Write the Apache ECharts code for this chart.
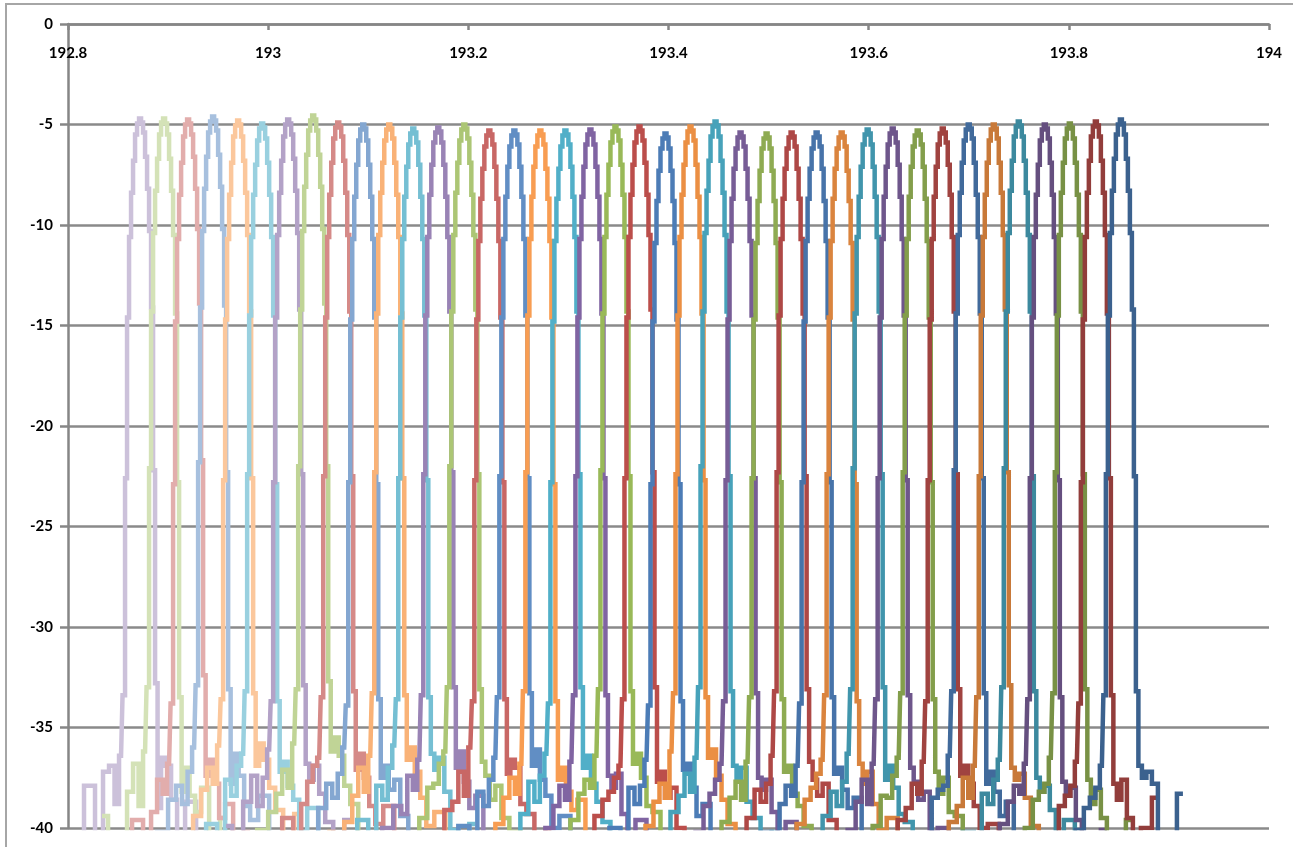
<!DOCTYPE html>
<html>
<head>
<meta charset="utf-8">
<script src="https://cdn.jsdelivr.net/npm/echarts@6/dist/echarts.min.js"></script>
<style>
html,body{margin:0;padding:0;background:#fff;overflow:hidden;}
#frame{position:absolute;left:5px;top:3px;width:1400px;height:1000px;border:2px solid #a6a6a6;}
#chart{position:absolute;left:0;top:0;width:1293px;height:847px;}
</style>
</head>
<body>
<div id="frame"></div>
<div id="chart"></div>
<script>
// Channel centre frequencies (THz)
const centers = [192.872,192.896,192.920,192.945,192.970,192.994,193.020,193.045,193.070,193.095,
                 193.121,193.145,193.170,193.196,193.221,193.246,193.272,193.297,193.322,193.347,
                 193.371,193.397,193.422,193.447,193.472,193.498,193.523,193.548,193.573,193.599,
                 193.624,193.649,193.674,193.700,193.725,193.750,193.776,193.801,193.827,193.852];

// Frequency offsets (THz) of the samples relative to each channel centre
const leftOffsets  = [-0.062,-0.050,-0.040,-0.034,-0.028,-0.023,-0.019];
const peakOffsets  = [-0.016,-0.014,-0.012,-0.010,-0.008,-0.006,-0.004,-0.002,0,0.002,0.004,0.006,0.008,0.010,0.012,0.014,0.016];
const rightOffsets = [0.019,0.023,0.028,0.034,0.040,0.050,0.062];

// Power levels (dBm) – left tail samples per channel
const leftTails = [
[-41.0,-37.9,-40.6,-37.2,-36.9,-38.8,-36.4],
[-39.4,-40.8,-41.0,-38.2,-36.8,-38.9,-36.2],
[-40.7,-39.6,-41.0,-39.2,-37.6,-38.3,-36.8],
[-41.0,-40.2,-38.6,-37.9,-38.8,-37.2,-36.0],
[-40.5,-41.0,-39.4,-38.1,-37.0,-37.8,-35.9],
[-41.0,-39.8,-40.3,-37.6,-38.4,-36.9,-36.3],
[-39.9,-41.0,-38.7,-37.4,-38.9,-37.5,-36.1],
[-41.0,-40.1,-39.2,-38.3,-37.1,-38.0,-35.8],
[-40.6,-39.5,-41.0,-38.8,-37.7,-36.9,-36.5],
[-41.0,-40.4,-39.0,-37.8,-38.5,-37.3,-36.0],
[-40.2,-41.0,-39.7,-38.4,-37.0,-38.2,-36.4],
[-41.0,-39.6,-40.5,-37.9,-38.6,-37.0,-35.9],
[-40.8,-40.0,-38.9,-39.3,-37.4,-38.1,-36.6],
[-41.0,-40.7,-39.5,-38.0,-37.8,-36.8,-36.2],
[-40.3,-41.0,-39.1,-38.7,-37.2,-38.4,-36.0],
[-41.0,-39.9,-40.6,-38.2,-38.9,-37.6,-36.5],
[-40.9,-41.0,-39.8,-38.5,-37.5,-38.3,-36.8],
[-41.0,-40.3,-39.3,-37.7,-38.7,-37.4,-36.3],
[-40.4,-41.0,-40.0,-38.9,-37.9,-38.6,-36.7],
[-41.0,-40.6,-39.6,-38.3,-37.6,-38.0,-36.4],
[-40.7,-41.0,-39.4,-38.6,-38.2,-37.5,-36.9],
[-41.0,-40.0,-40.8,-38.0,-38.8,-37.9,-36.6],
[-40.5,-41.0,-39.9,-38.7,-37.8,-38.5,-36.2],
[-41.0,-40.4,-39.2,-38.4,-37.3,-38.2,-36.5],
[-40.8,-41.0,-40.2,-38.9,-38.3,-37.6,-36.8],
[-41.0,-40.7,-39.7,-38.5,-37.7,-38.6,-36.7],
[-40.6,-41.0,-39.5,-38.1,-38.7,-37.8,-36.4],
[-41.0,-40.2,-40.7,-38.8,-37.9,-38.4,-36.9],
[-40.4,-41.0,-39.8,-38.6,-38.0,-37.3,-36.6],
[-41.0,-40.5,-39.4,-38.2,-38.9,-37.7,-36.3],
[-40.9,-41.0,-40.1,-38.7,-37.6,-38.8,-36.8],
[-41.0,-40.3,-39.9,-38.4,-38.5,-37.4,-36.5],
[-40.6,-41.0,-39.6,-39.0,-37.8,-38.3,-36.7],
[-41.0,-40.6,-40.3,-38.5,-38.1,-37.9,-36.4],
[-40.7,-41.0,-39.7,-38.9,-37.5,-38.5,-36.9],
[-41.0,-40.2,-40.5,-38.3,-38.8,-37.6,-36.6],
[-40.8,-41.0,-39.8,-38.7,-37.9,-38.3,-36.8],
[-41.0,-40.4,-40.0,-38.6,-38.2,-37.8,-36.5],
[-40.9,-41.0,-40.3,-38.9,-38.4,-37.9,-36.7],
[-41.0,-40.6,-40.1,-39.0,-38.5,-38.0,-36.9]
];

// Power levels (dBm) – main lobe samples per channel
const peaks = [
[-33.4,-22.6,-14.6,-10.6,-8.4,-6.8,-5.5,-4.95,-4.7,-4.9,-5.4,-6.6,-8.2,-10.3,-14.1,-22.2,-32.8],
[-33.0,-22.1,-14.3,-10.4,-8.3,-6.7,-5.5,-4.9,-4.7,-4.95,-5.5,-6.7,-8.3,-10.5,-14.4,-22.8,-33.5],
[-33.8,-22.9,-14.8,-10.7,-8.5,-6.9,-5.6,-5.0,-4.75,-4.95,-5.5,-6.6,-8.2,-10.2,-13.9,-21.7,-32.4],
[-32.9,-21.8,-14.1,-10.3,-8.2,-6.6,-5.4,-4.85,-4.6,-4.8,-5.3,-6.5,-8.1,-10.2,-14.0,-22.3,-33.1],
[-33.6,-22.7,-14.7,-10.7,-8.5,-6.9,-5.6,-5.05,-4.8,-5.0,-5.6,-6.8,-8.4,-10.5,-14.3,-22.6,-33.3],
[-33.2,-22.4,-14.5,-10.6,-8.5,-7.0,-5.8,-5.2,-4.95,-5.15,-5.7,-6.9,-8.5,-10.6,-14.5,-22.9,-33.7],
[-33.7,-22.8,-14.6,-10.5,-8.4,-6.8,-5.6,-5.0,-4.75,-4.95,-5.5,-6.7,-8.3,-10.4,-14.2,-22.4,-32.9],
[-33.1,-22.0,-14.2,-10.3,-8.1,-6.5,-5.3,-4.8,-4.55,-4.75,-5.3,-6.5,-8.1,-10.2,-13.9,-22.0,-32.7],
[-33.5,-22.5,-14.6,-10.6,-8.5,-6.9,-5.7,-5.15,-4.9,-5.1,-5.6,-6.8,-8.4,-10.5,-14.3,-22.5,-33.2],
[-33.9,-22.8,-14.7,-10.7,-8.6,-7.0,-5.8,-5.25,-5.0,-5.2,-5.8,-7.0,-8.6,-10.7,-14.6,-22.9,-33.6],
[-33.3,-22.3,-14.4,-10.5,-8.4,-6.9,-5.8,-5.25,-5.0,-5.2,-5.7,-6.9,-8.5,-10.6,-14.4,-22.6,-33.4],
[-33.6,-22.6,-14.6,-10.7,-8.6,-7.1,-6.0,-5.45,-5.2,-5.4,-5.9,-7.0,-8.6,-10.7,-14.5,-22.7,-33.5],
[-33.4,-22.4,-14.5,-10.6,-8.5,-7.0,-5.9,-5.4,-5.15,-5.35,-5.9,-7.0,-8.6,-10.6,-14.3,-22.3,-33.0],
[-33.0,-22.0,-14.3,-10.5,-8.4,-6.9,-5.8,-5.25,-5.0,-5.2,-5.7,-6.9,-8.5,-10.5,-14.2,-22.4,-33.1],
[-33.7,-22.7,-14.7,-10.8,-8.7,-7.2,-6.1,-5.55,-5.3,-5.5,-6.0,-7.1,-8.7,-10.8,-14.6,-22.8,-33.6],
[-33.5,-22.5,-14.6,-10.7,-8.6,-7.1,-6.1,-5.55,-5.3,-5.5,-6.0,-7.1,-8.6,-10.7,-14.5,-22.6,-33.3],
[-33.2,-22.3,-14.5,-10.7,-8.6,-7.1,-6.1,-5.55,-5.3,-5.5,-6.0,-7.2,-8.7,-10.8,-14.6,-22.9,-33.7],
[-33.8,-22.8,-14.8,-10.8,-8.7,-7.2,-6.1,-5.55,-5.3,-5.5,-6.0,-7.1,-8.6,-10.6,-14.3,-22.4,-33.0],
[-33.4,-22.5,-14.6,-10.7,-8.6,-7.1,-6.0,-5.5,-5.25,-5.45,-6.0,-7.1,-8.6,-10.7,-14.4,-22.6,-33.4],
[-33.1,-22.2,-14.4,-10.6,-8.5,-7.0,-5.9,-5.35,-5.1,-5.3,-5.8,-7.0,-8.5,-10.6,-14.3,-22.5,-33.2],
[-33.6,-22.6,-14.6,-10.6,-8.5,-7.0,-5.9,-5.35,-5.1,-5.3,-5.8,-6.9,-8.5,-10.5,-14.2,-22.3,-33.0],
[-33.9,-22.9,-14.8,-10.9,-8.8,-7.3,-6.2,-5.7,-5.45,-5.65,-6.2,-7.3,-8.8,-10.9,-14.7,-22.9,-33.7],
[-33.3,-22.4,-14.5,-10.6,-8.5,-7.0,-5.9,-5.35,-5.1,-5.3,-5.8,-7.0,-8.6,-10.6,-14.4,-22.7,-33.5],
[-33.0,-22.0,-14.3,-10.4,-8.3,-6.8,-5.6,-5.1,-4.85,-5.05,-5.6,-6.8,-8.4,-10.5,-14.3,-22.5,-33.2],
[-33.7,-22.7,-14.7,-10.8,-8.7,-7.2,-6.2,-5.65,-5.4,-5.6,-6.1,-7.2,-8.7,-10.8,-14.5,-22.6,-33.3],
[-33.5,-22.6,-14.7,-10.9,-8.8,-7.3,-6.2,-5.7,-5.45,-5.65,-6.2,-7.3,-8.8,-10.9,-14.6,-22.8,-33.6],
[-33.2,-22.3,-14.5,-10.7,-8.7,-7.2,-6.2,-5.65,-5.4,-5.6,-6.1,-7.2,-8.7,-10.7,-14.4,-22.5,-33.1],
[-33.8,-22.8,-14.8,-10.8,-8.7,-7.2,-6.2,-5.65,-5.4,-5.6,-6.1,-7.2,-8.8,-10.8,-14.6,-22.8,-33.5],
[-33.4,-22.4,-14.6,-10.8,-8.7,-7.2,-6.2,-5.65,-5.4,-5.6,-6.1,-7.3,-8.8,-10.9,-14.7,-22.9,-33.7],
[-33.1,-22.1,-14.4,-10.6,-8.6,-7.1,-6.0,-5.5,-5.25,-5.45,-6.0,-7.1,-8.6,-10.6,-14.3,-22.4,-33.0],
[-33.6,-22.6,-14.6,-10.7,-8.6,-7.1,-6.0,-5.45,-5.2,-5.4,-5.9,-7.0,-8.6,-10.7,-14.5,-22.7,-33.4],
[-33.3,-22.3,-14.5,-10.7,-8.6,-7.1,-6.1,-5.55,-5.3,-5.5,-6.0,-7.1,-8.7,-10.8,-14.6,-22.8,-33.6],
[-33.7,-22.7,-14.7,-10.7,-8.6,-7.1,-6.0,-5.45,-5.2,-5.4,-5.9,-7.0,-8.5,-10.6,-14.3,-22.4,-33.1],
[-33.2,-22.2,-14.4,-10.5,-8.4,-6.9,-5.8,-5.25,-5.0,-5.2,-5.7,-6.9,-8.5,-10.6,-14.4,-22.6,-33.3],
[-33.5,-22.5,-14.5,-10.6,-8.5,-6.9,-5.8,-5.25,-5.0,-5.2,-5.7,-6.9,-8.4,-10.5,-14.2,-22.3,-32.9],
[-33.0,-22.1,-14.3,-10.4,-8.3,-6.8,-5.6,-5.1,-4.85,-5.05,-5.6,-6.8,-8.4,-10.5,-14.3,-22.5,-33.2],
[-33.6,-22.6,-14.6,-10.6,-8.5,-7.0,-5.8,-5.25,-5.0,-5.2,-5.7,-6.9,-8.5,-10.6,-14.4,-22.7,-33.5],
[-33.3,-22.3,-14.5,-10.5,-8.4,-6.9,-5.7,-5.2,-4.95,-5.15,-5.7,-6.9,-8.5,-10.5,-14.3,-22.4,-33.1],
[-33.8,-22.8,-14.7,-10.6,-8.4,-6.8,-5.6,-5.1,-4.85,-5.05,-5.6,-6.8,-8.4,-10.5,-14.4,-22.6,-33.4],
[-33.4,-22.4,-14.5,-10.4,-8.3,-6.7,-5.5,-5.0,-4.75,-4.95,-5.5,-6.7,-8.3,-10.4,-14.2,-22.5,-33.2]
];

// Power levels (dBm) – right tail samples per channel
const rightTails = [
[-39.0,-36.5,-36.9,-38.6,-40.4,-38.7,-41.0],
[-38.2,-37.0,-38.4,-39.2,-38.0,-40.6,-39.5],
[-37.4,-36.6,-37.8,-39.5,-38.8,-41.0,-40.2],
[-37.8,-36.3,-37.4,-38.9,-39.6,-38.4,-41.0],
[-36.9,-35.8,-36.6,-38.0,-39.1,-40.5,-39.3],
[-37.2,-36.7,-37.9,-38.6,-40.2,-39.0,-41.0],
[-36.8,-37.6,-36.9,-38.3,-39.7,-40.8,-39.6],
[-36.2,-35.5,-36.4,-37.9,-38.8,-40.4,-41.0],
[-37.1,-36.3,-37.5,-38.9,-39.8,-38.9,-41.0],
[-37.5,-36.9,-38.1,-37.6,-39.4,-41.0,-40.3],
[-36.6,-36.0,-37.2,-38.5,-39.9,-39.2,-41.0],
[-36.3,-37.1,-36.5,-38.2,-40.1,-40.7,-39.8],
[-37.0,-36.2,-37.7,-39.0,-38.4,-41.0,-40.5],
[-36.7,-37.4,-38.6,-37.9,-39.5,-40.2,-41.0],
[-37.3,-36.6,-37.0,-38.8,-39.3,-41.0,-40.1],
[-36.9,-36.1,-37.6,-38.4,-40.0,-39.4,-41.0],
[-37.6,-37.0,-38.2,-39.1,-38.6,-40.8,-41.0],
[-37.0,-36.4,-37.8,-38.7,-39.7,-40.5,-41.0],
[-37.4,-38.0,-37.3,-39.3,-40.3,-39.6,-41.0],
[-36.8,-36.3,-37.5,-38.9,-39.2,-41.0,-40.4],
[-37.7,-37.2,-38.5,-38.0,-40.0,-40.6,-41.0],
[-37.1,-36.8,-38.0,-39.4,-38.8,-41.0,-40.7],
[-36.5,-36.1,-37.4,-38.6,-39.8,-40.3,-41.0],
[-36.9,-37.5,-37.0,-38.7,-39.5,-41.0,-40.2],
[-37.5,-38.1,-37.6,-39.2,-40.4,-39.7,-41.0],
[-37.2,-36.9,-38.3,-38.9,-39.9,-41.0,-40.5],
[-36.7,-37.6,-38.4,-37.8,-39.6,-40.6,-41.0],
[-37.3,-37.0,-38.1,-39.0,-38.5,-41.0,-40.4],
[-36.8,-37.8,-37.2,-38.8,-40.1,-39.5,-41.0],
[-37.6,-36.9,-38.0,-39.3,-39.7,-40.9,-41.0],
[-37.0,-37.7,-38.6,-38.2,-40.2,-40.0,-41.0],
[-37.2,-38.3,-37.5,-39.2,-39.4,-41.0,-40.6],
[-37.4,-36.9,-37.8,-38.9,-40.0,-39.8,-41.0],
[-37.8,-37.2,-38.2,-39.4,-38.7,-41.0,-40.6],
[-37.0,-37.6,-37.3,-38.5,-39.9,-40.7,-41.0],
[-37.5,-38.2,-37.9,-39.1,-40.3,-39.6,-41.0],
[-37.7,-38.4,-38.0,-39.6,-40.5,-41.0,-40.1],
[-37.6,-38.8,-38.1,-39.5,-40.8,-41.0,-39.6],
[-37.8,-38.6,-37.6,-39.5,-41.0,-40.0,-38.5],
[-36.9,-37.5,-37.2,-37.8,-41.0,-41.0,-38.3]
];

const xTicks = {min:192.8, max:194, interval:0.2};
const yTicks = {min:-40, max:0, interval:5};

// Colour styling: six hue families, lighter on the left, darker on the right
const families = ['#8064A2','#9BBB59','#C0504D','#4F81BD','#F79646','#4BACC6'];
function shade(hex, i){
  const r=parseInt(hex.slice(1,3),16), g=parseInt(hex.slice(3,5),16), b=parseInt(hex.slice(5,7),16);
  let f = x=>x;
  if(i<18){ const t=(18-i)/18*0.6; f = x=>Math.round(x+(255-x)*t); }
  else { const d=(i-18)/21*0.25; f = x=>Math.round(x*(1-d)); }
  return '#'+[r,g,b].map(v=>f(v).toString(16).padStart(2,'0')).join('');
}

const offsets = leftOffsets.concat(peakOffsets, rightOffsets);
const series = centers.map((c,i)=>{
  const levels = leftTails[i].concat(peaks[i], rightTails[i]);
  const col = shade(families[i%6],i);
  return {
    type:'line',
    name:'Ch'+(i+1),
    step:'middle',
    showSymbol:false,
    symbol:'none',
    clip:true,
    lineStyle:{width:4.5,color:col,join:'miter',cap:'butt'},
    itemStyle:{color:col},
    data:offsets.map((o,k)=>[+(c+o).toFixed(4), levels[k]])
  };
});

const chart = echarts.init(document.getElementById('chart'));
chart.setOption({
  animation:false,
  backgroundColor:'transparent',
  grid:{left:68,right:24,top:24,bottom:19},
  xAxis:{
    type:'value', position:'top',
    min:xTicks.min, max:xTicks.max, interval:xTicks.interval,
    axisLine:{show:true,onZero:false,lineStyle:{color:'#868686',width:2.5}},
    axisTick:{show:true,inside:true,length:6,lineStyle:{color:'#868686',width:2.5}},
    axisLabel:{inside:false,margin:-37,align:'center',fontFamily:'Lato',fontWeight:'bold',fontSize:15,color:'#000',
      showMinLabel:true,showMaxLabel:true,
      formatter:v=>String(+v.toFixed(1))},
    splitLine:{show:false}
  },
  yAxis:{
    type:'value',
    min:yTicks.min, max:yTicks.max, interval:yTicks.interval,
    axisLine:{show:true,onZero:false,lineStyle:{color:'#868686',width:2.5}},
    axisTick:{show:true,length:8,lineStyle:{color:'#868686',width:2.5}},
    axisLabel:{margin:15,fontFamily:'Lato',fontWeight:'bold',fontSize:15,color:'#000'},
    splitLine:{show:true,lineStyle:{color:'#8a8a8a',width:2.5}}
  },
  series:series
});
</script>
</body>
</html>
